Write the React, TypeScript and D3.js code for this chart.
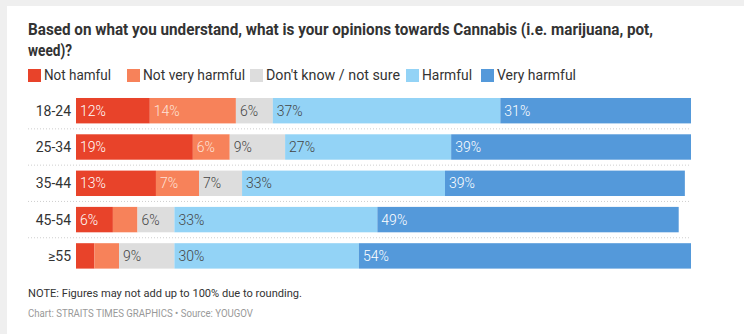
import React from "react";
import * as d3 from "d3";

const ageGroups = ["18-24", "25-34", "35-44", "45-54", "≥55"];
const seriesNames = ["Not hamful", "Not very harmful", "Don't know / not sure", "Harmful", "Very harmful"];
const notHarmful = [12, 19, 13, 6, 3];
const notVeryHarmful = [14, 6, 7, 4, 4];
const dontKnow = [6, 9, 7, 6, 9];
const harmful = [37, 27, 33, 33, 30];
const veryHarmful = [31, 39, 39, 49, 54];
const seriesColors = ["#e8432a", "#f7825a", "#dddddd", "#93d3f6", "#5499da"];
const labelColors = ["#ffffff", "#fde3d8", "#444444", "#444444", "#ffffff"];

const W = 744;
const H = 334;

export default function App() {
  const series = [notHarmful, notVeryHarmful, dontKnow, harmful, veryHarmful];
  const x = d3.scaleLinear().domain([0, 100]).range([76, 691]);
  const y = d3.scaleBand<string>().domain(ageGroups).range([87.1, 279.5]).padding(0.3);
  const rows = ageGroups.map((g, i) => {
    const vals = series.map((s) => s[i]);
    const cum = d3.cumsum(vals);
    return vals.map((v, k) => ({ g, k, v, x0: cum[k] - v, x1: cum[k] }));
  });
  const legendX = [28, 127, 250, 406, 481];
  const legendTextLen = [67, 102, 134, 50, 79];
  const step = y.step();
  const font = "Roboto, 'Noto Sans', sans-serif";
  return (
    <svg width={W} height={H} style={{ position: "absolute", left: 0, top: 0 }}>
      <rect x={0} y={0} width={W} height={H} fill="#efefef" />
      <rect x={7} y={6} width={W - 7} height={H - 6} fill="#ffffff" />
      <g fontFamily={font} fill="#333">
        <text x={28} y={35} fontSize={16} fontWeight={700} textLength={625} lengthAdjust="spacingAndGlyphs">
          Based on what you understand, what is your opinions towards Cannabis (i.e. marijuana, pot,
        </text>
        <text x={28} y={56} fontSize={16} fontWeight={700} textLength={44} lengthAdjust="spacingAndGlyphs">
          weed)?
        </text>
      </g>
      <g fontFamily={font}>
        {seriesNames.map((n, k) => (
          <g key={n}>
            <rect x={legendX[k]} y={69} width={13} height={13} fill={seriesColors[k]} />
            <text x={legendX[k] + 16} y={80} fontSize={14} fill="#333" textLength={legendTextLen[k]} lengthAdjust="spacingAndGlyphs">
              {n}
            </text>
          </g>
        ))}
      </g>
      <g>
        {ageGroups.slice(0, -1).map((g) => {
          const yy = (y(g) as number) + y.bandwidth() + (step - y.bandwidth()) / 2;
          return (
            <line key={g} x1={28} x2={691} y1={yy} y2={yy} stroke="#cfcfcf" strokeWidth={1} strokeDasharray="1,2" />
          );
        })}
      </g>
      <g fontFamily={font}>
        {rows.map((segs) => {
          const g = segs[0].g;
          const y0 = y(g) as number;
          const bh = y.bandwidth();
          return (
            <g key={g}>
              <text x={71} y={y0 + bh / 2 + 5} fontSize={14} fill="#333" textAnchor="end">
                {g}
              </text>
              {segs.map((s) => (
                <rect key={s.k} x={x(s.x0)} y={y0} width={x(s.x1) - x(s.x0)} height={bh} fill={seriesColors[s.k]} />
              ))}
              {segs.map((s) =>
                s.v > 5 ? (
                  <text key={"t" + s.k} x={x(s.x0) + 4} y={y0 + bh / 2 + 5} fontSize={14} fontWeight={300} fill={labelColors[s.k]}>
                    {s.v + "%"}
                  </text>
                ) : null
              )}
            </g>
          );
        })}
      </g>
      <g fontFamily={font}>
        <text x={28} y={297} fontSize={11} fill="#333" textLength={274} lengthAdjust="spacingAndGlyphs">
          NOTE: Figures may not add up to 100% due to rounding.
        </text>
        <text x={28} y={317} fontSize={10} fill="#999" textLength={225} lengthAdjust="spacingAndGlyphs">
          Chart: STRAITS TIMES GRAPHICS • Source: YOUGOV
        </text>
      </g>
    </svg>
  );
}
